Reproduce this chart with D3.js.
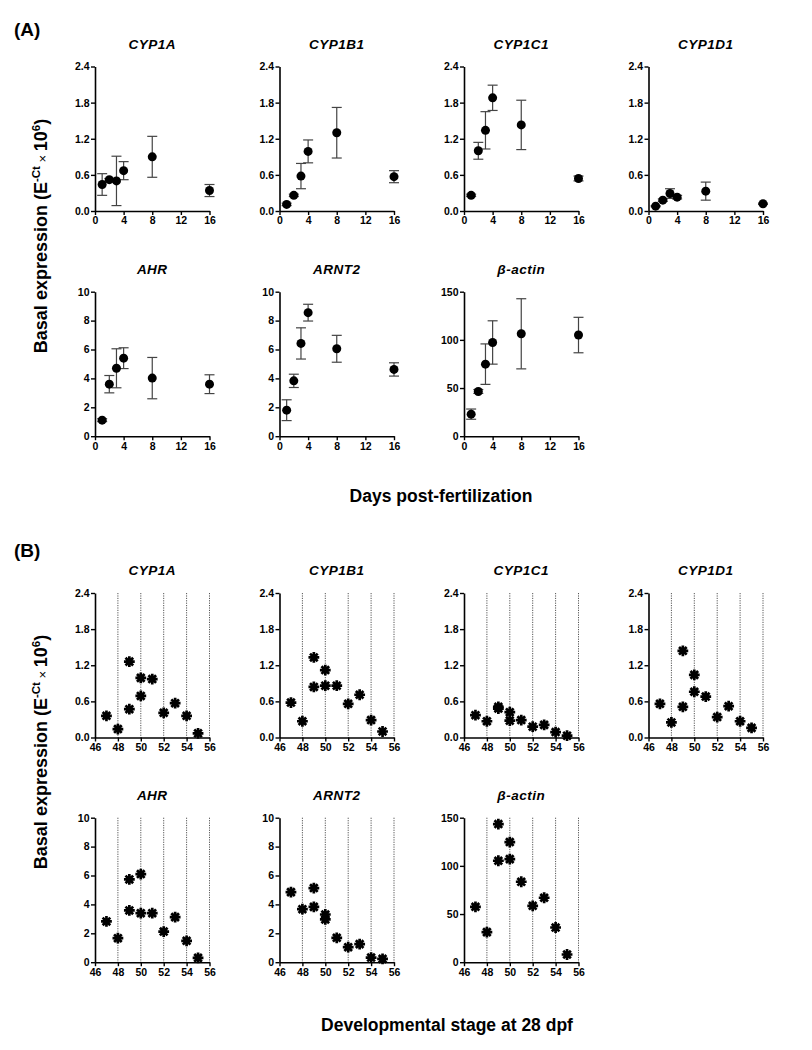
<!DOCTYPE html>
<html>
<head>
<meta charset="utf-8">
<script src="https://cdn.jsdelivr.net/npm/d3@7"></script>
<style>
  html, body { margin: 0; padding: 0; background: #fff; }
  svg text { font-family: "Liberation Sans", Arial, sans-serif; }
</style>
</head>
<body>
<svg id="chart" width="812" height="1050"></svg>
<script>
// ---------- DATA ----------
const genes = ["CYP1A", "CYP1B1", "CYP1C1", "CYP1D1", "AHR", "ARNT2", "β-actin"];
const geneYMax = [2.4, 2.4, 2.4, 2.4, 10, 10, 150];
const tickCyp = [0, 0.6, 1.2, 1.8, 2.4];
const tickAhr = [0, 2, 4, 6, 8, 10];
const tickActin = [0, 50, 100, 150];
const daysTicks = [0, 4, 8, 12, 16];
const stageTicks = [46, 48, 50, 52, 54, 56];
const stageGrid = [48, 50, 52, 54, 56];

// (A) days post-fertilization: mean and error
const daysPF = [1, 2, 3, 4, 8, 16];
const cyp1aDays = [0.44, 0.52, 0.50, 0.67, 0.90, 0.34];
const cyp1aDaysErr = [0.18, 0.02, 0.41, 0.15, 0.34, 0.10];
const cyp1b1Days = [0.11, 0.26, 0.58, 0.99, 1.30, 0.57];
const cyp1b1DaysErr = [0.02, 0.02, 0.21, 0.19, 0.42, 0.10];
const cyp1c1Days = [0.26, 1.00, 1.34, 1.88, 1.43, 0.54];
const cyp1c1DaysErr = [0.02, 0.14, 0.31, 0.21, 0.41, 0.04];
const cyp1d1Days = [0.08, 0.18, 0.29, 0.23, 0.33, 0.12];
const cyp1d1DaysErr = [0.01, 0.02, 0.08, 0.03, 0.15, 0.01];
const ahrDays = [1.11, 3.6, 4.7, 5.4, 4.02, 3.6];
const ahrDaysErr = [0.1, 0.6, 1.35, 0.72, 1.43, 0.65];
const arnt2Days = [1.8, 3.83, 6.42, 8.55, 6.05, 4.62];
const arnt2DaysErr = [0.72, 0.46, 1.08, 0.58, 0.93, 0.46];
const actinDays = [22.9, 46.4, 74.8, 97.3, 106.3, 105];
const actinDaysErr = [5.3, 2, 21, 22.5, 36.4, 18.4];

// (B) developmental stage at 28 dpf: individual values
const stages = [47, 48, 49, 49, 50, 50, 51, 52, 53, 54, 55];
const cyp1aStage = [0.36, 0.14, 1.26, 0.47, 0.99, 0.69, 0.97, 0.41, 0.57, 0.36, 0.07];
const cyp1b1Stage = [0.58, 0.27, 1.33, 0.84, 1.12, 0.86, 0.86, 0.56, 0.71, 0.29, 0.10];
const cyp1c1Stage = [0.37, 0.27, 0.51, 0.48, 0.42, 0.28, 0.29, 0.18, 0.21, 0.09, 0.03];
const cyp1d1Stage = [0.56, 0.25, 1.44, 0.51, 1.04, 0.76, 0.68, 0.34, 0.52, 0.27, 0.16];
const ahrStage = [2.82, 1.66, 5.73, 3.58, 6.10, 3.39, 3.39, 2.12, 3.12, 1.48, 0.30];
const arnt2Stage = [4.85, 3.67, 5.13, 3.83, 3.30, 2.96, 1.69, 1.04, 1.25, 0.32, 0.23];
const actinStage = [57.5, 31.2, 143.4, 105.3, 124.7, 107, 83.5, 58.5, 66.9, 36, 8];

const daysMeans = [cyp1aDays, cyp1b1Days, cyp1c1Days, cyp1d1Days, ahrDays, arnt2Days, actinDays];
const daysErrs = [cyp1aDaysErr, cyp1b1DaysErr, cyp1c1DaysErr, cyp1d1DaysErr, ahrDaysErr, arnt2DaysErr, actinDaysErr];
const stageVals = [cyp1aStage, cyp1b1Stage, cyp1c1Stage, cyp1d1Stage, ahrStage, arnt2Stage, actinStage];
const geneTicks = [tickCyp, tickCyp, tickCyp, tickCyp, tickAhr, tickAhr, tickActin];

// ---------- LAYOUT ----------
const svg = d3.select("#chart");
const colX = [95, 279.5, 464, 648.5];
const plotW = 114.5, plotH = 144.5;
const rowTopsA = [66.5, 291.7];
const rowTopsB = [593, 817.7];

function fmtTick(g) {
  return g < 4 ? d3.format(".1f") : d3.format("d");
}

function drawPanel(gi, top, mode) {
  const left = colX[gi % 4];
  const x = d3.scaleLinear()
    .domain(mode === "A" ? [0, 16] : [46, 56])
    .range([left, left + plotW]);
  const y = d3.scaleLinear().domain([0, geneYMax[gi]]).range([top + plotH, top]);
  const g = svg.append("g");

  // title
  g.append("text")
    .attr("x", left + plotW / 2)
    .attr("y", top - 18)
    .attr("text-anchor", "middle")
    .attr("font-size", "13.5px")
    .attr("font-weight", "bold")
    .attr("font-style", "italic")
    .attr("letter-spacing", "0.5px")
    .text(genes[gi]);

  // gridlines for B
  if (mode === "B") {
    g.selectAll("line.grid").data(stageGrid).enter().append("line")
      .attr("x1", d => x(d)).attr("x2", d => x(d))
      .attr("y1", y(geneYMax[gi])).attr("y2", y(0))
      .attr("stroke", "#555").attr("stroke-width", 1)
      .attr("stroke-dasharray", "1.2,1.2");
  }

  // axes
  const yAxis = d3.axisLeft(y).tickValues(geneTicks[gi]).tickFormat(fmtTick(gi))
    .tickSize(4).tickSizeOuter(0).tickPadding(1.5);
  const xAxis = d3.axisBottom(x).tickValues(mode === "A" ? daysTicks : stageTicks)
    .tickFormat(d3.format("d")).tickSize(4).tickSizeOuter(0).tickPadding(2);

  const ya = g.append("g").attr("transform", `translate(${left},0)`).call(yAxis);
  const xa = g.append("g").attr("transform", `translate(0,${top + plotH})`).call(xAxis);
  [ya, xa].forEach(a => {
    a.selectAll("path").attr("stroke", "#000").attr("stroke-width", 1.6);
    a.selectAll("line").attr("stroke", "#000").attr("stroke-width", 1.4);
    a.selectAll("text")
      .attr("fill", "#000")
      .attr("font-size", "10.5px")
      .attr("font-weight", "bold")
      .attr("font-family", "Liberation Sans, Arial, sans-serif");
  });

  if (mode === "A") {
    const means = daysMeans[gi], errs = daysErrs[gi];
    const pts = daysPF.map((d, i) => ({ x: d, m: means[i], e: errs[i] }));
    const eb = g.append("g").attr("stroke", "#444").attr("stroke-width", 1.2);
    pts.forEach(p => {
      eb.append("line").attr("x1", x(p.x)).attr("x2", x(p.x))
        .attr("y1", y(p.m + p.e)).attr("y2", y(p.m - p.e));
      [p.m + p.e, p.m - p.e].forEach(v => {
        eb.append("line").attr("x1", x(p.x) - 5).attr("x2", x(p.x) + 5)
          .attr("y1", y(v)).attr("y2", y(v));
      });
    });
    g.selectAll("circle.pt").data(pts).enter().append("circle")
      .attr("cx", d => x(d.x)).attr("cy", d => y(d.m)).attr("r", 4.5)
      .attr("fill", "#000");
  } else {
    const vals = stageVals[gi];
    const pts = stages.map((s, i) => ({ x: s, v: vals[i] }));
    const r = 5.4;
    const star = `M${-r},0L${r},0M0,${-r}L0,${r}` +
      `M${-r * 0.7071},${-r * 0.7071}L${r * 0.7071},${r * 0.7071}` +
      `M${-r * 0.7071},${r * 0.7071}L${r * 0.7071},${-r * 0.7071}`;
    g.selectAll("path.star").data(pts).enter().append("path")
      .attr("transform", d => `translate(${x(d.x)},${y(d.v)})`)
      .attr("d", star)
      .attr("stroke", "#000").attr("stroke-width", 2.7).attr("fill", "none");
    g.selectAll("circle.core").data(pts).enter().append("circle")
      .attr("cx", d => x(d.x)).attr("cy", d => y(d.v)).attr("r", 2.3).attr("fill", "#000");
  }
}

genes.forEach((gname, gi) => {
  const row = gi < 4 ? 0 : 1;
  drawPanel(gi, rowTopsA[row], "A");
  drawPanel(gi, rowTopsB[row], "B");
});

// panel letters
svg.append("text").attr("x", 14).attr("y", 36).attr("font-size", "19px")
  .attr("font-weight", "bold").text("(A)");
svg.append("text").attr("x", 14).attr("y", 557).attr("font-size", "19px")
  .attr("font-weight", "bold").text("(B)");

// x-axis labels
svg.append("text").attr("x", 441).attr("y", 502).attr("text-anchor", "middle")
  .attr("font-size", "17.5px").attr("font-weight", "bold").text("Days post-fertilization");
svg.append("text").attr("x", 447).attr("y", 1031).attr("text-anchor", "middle")
  .attr("font-size", "17.5px").attr("font-weight", "bold").text("Developmental stage at 28 dpf");

// y-axis labels
function yLabel(cy) {
  const t = svg.append("text")
    .attr("transform", `translate(47,${cy}) rotate(-90)`)
    .attr("text-anchor", "middle")
    .attr("font-size", "18px").attr("font-weight", "bold");
  t.append("tspan").text("Basal expression (E");
  t.append("tspan").attr("dy", "-7").attr("font-size", "11.5px").text("-Ct");
  t.append("tspan").attr("dy", "7").attr("font-size", "13px").attr("font-weight", "normal").text(" × ");
  t.append("tspan").text("10");
  t.append("tspan").attr("dy", "-7").attr("font-size", "11.5px").text("6");
  t.append("tspan").attr("dy", "7").text(")");
}
yLabel(236);
yLabel(752);
</script>
</body>
</html>
